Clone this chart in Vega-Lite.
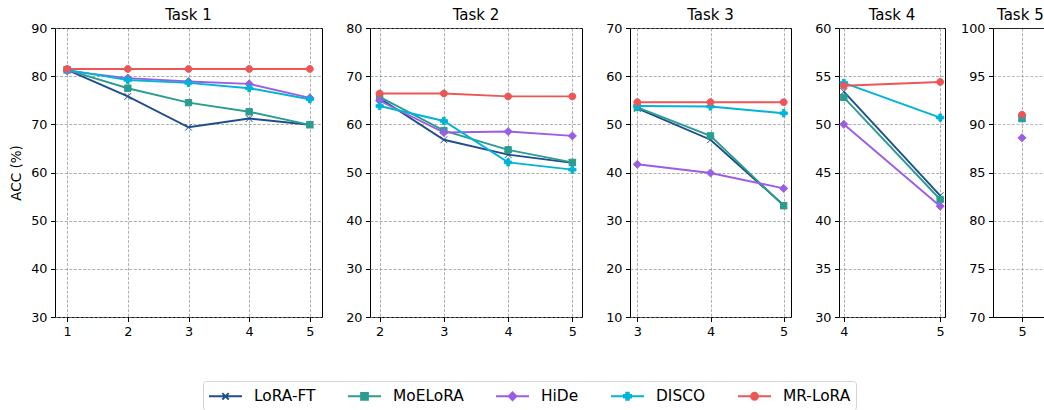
{
  "$schema": "https://vega.github.io/schema/vega-lite/v6.json",
  "background": "white",
  "padding": {"left": 9, "top": 7, "right": 0, "bottom": 0},
  "bounds": "flush",
  "spacing": 48,
  "config": {
    "font": "DejaVu Sans",
    "view": {"stroke": "#000", "strokeWidth": 1},
    "axis": {
      "domain": false,
      "grid": true,
      "gridColor": "#8a8a8a",
      "gridDash": [3, 1.6],
      "gridWidth": 0.8,
      "gridOpacity": 0.85,
      "tickColor": "#000",
      "tickSize": 4.5,
      "tickWidth": 1,
      "labelFont": "DejaVu Sans",
      "labelFontSize": 12.8,
      "labelColor": "#000",
      "labelPadding": 3.5,
      "labelFlush": false,
      "labelOverlap": false,
      "titleFont": "DejaVu Sans",
      "titleFontSize": 13.5,
      "titleFontWeight": "normal",
      "titleColor": "#000",
      "titlePadding": 7
    },
    "title": {"font": "DejaVu Sans", "fontSize": 15, "fontWeight": "normal", "color": "#000"}
  },
  "data": {
    "values": [
      {"task": 1, "step": 1, "method": "LoRA-FT", "acc": 81.3},
      {"task": 1, "step": 2, "method": "LoRA-FT", "acc": 75.8},
      {"task": 1, "step": 3, "method": "LoRA-FT", "acc": 69.4},
      {"task": 1, "step": 4, "method": "LoRA-FT", "acc": 71.2},
      {"task": 1, "step": 5, "method": "LoRA-FT", "acc": 69.9},
      {"task": 1, "step": 1, "method": "MoELoRA", "acc": 81.3},
      {"task": 1, "step": 2, "method": "MoELoRA", "acc": 77.5},
      {"task": 1, "step": 3, "method": "MoELoRA", "acc": 74.5},
      {"task": 1, "step": 4, "method": "MoELoRA", "acc": 72.6},
      {"task": 1, "step": 5, "method": "MoELoRA", "acc": 69.9},
      {"task": 1, "step": 1, "method": "HiDe", "acc": 81.1},
      {"task": 1, "step": 2, "method": "HiDe", "acc": 79.6},
      {"task": 1, "step": 3, "method": "HiDe", "acc": 78.9},
      {"task": 1, "step": 4, "method": "HiDe", "acc": 78.4},
      {"task": 1, "step": 5, "method": "HiDe", "acc": 75.5},
      {"task": 1, "step": 1, "method": "DISCO", "acc": 81.3},
      {"task": 1, "step": 2, "method": "DISCO", "acc": 79.2},
      {"task": 1, "step": 3, "method": "DISCO", "acc": 78.6},
      {"task": 1, "step": 4, "method": "DISCO", "acc": 77.5},
      {"task": 1, "step": 5, "method": "DISCO", "acc": 75.2},
      {"task": 1, "step": 1, "method": "MR-LoRA", "acc": 81.5},
      {"task": 1, "step": 2, "method": "MR-LoRA", "acc": 81.5},
      {"task": 1, "step": 3, "method": "MR-LoRA", "acc": 81.5},
      {"task": 1, "step": 4, "method": "MR-LoRA", "acc": 81.5},
      {"task": 1, "step": 5, "method": "MR-LoRA", "acc": 81.5},

      {"task": 2, "step": 2, "method": "LoRA-FT", "acc": 65.4},
      {"task": 2, "step": 3, "method": "LoRA-FT", "acc": 56.8},
      {"task": 2, "step": 4, "method": "LoRA-FT", "acc": 53.7},
      {"task": 2, "step": 5, "method": "LoRA-FT", "acc": 52.0},
      {"task": 2, "step": 2, "method": "MoELoRA", "acc": 65.7},
      {"task": 2, "step": 3, "method": "MoELoRA", "acc": 58.7},
      {"task": 2, "step": 4, "method": "MoELoRA", "acc": 54.7},
      {"task": 2, "step": 5, "method": "MoELoRA", "acc": 52.1},
      {"task": 2, "step": 2, "method": "HiDe", "acc": 64.9},
      {"task": 2, "step": 3, "method": "HiDe", "acc": 58.3},
      {"task": 2, "step": 4, "method": "HiDe", "acc": 58.5},
      {"task": 2, "step": 5, "method": "HiDe", "acc": 57.6},
      {"task": 2, "step": 2, "method": "DISCO", "acc": 63.8},
      {"task": 2, "step": 3, "method": "DISCO", "acc": 60.7},
      {"task": 2, "step": 4, "method": "DISCO", "acc": 52.1},
      {"task": 2, "step": 5, "method": "DISCO", "acc": 50.6},
      {"task": 2, "step": 2, "method": "MR-LoRA", "acc": 66.4},
      {"task": 2, "step": 3, "method": "MR-LoRA", "acc": 66.4},
      {"task": 2, "step": 4, "method": "MR-LoRA", "acc": 65.8},
      {"task": 2, "step": 5, "method": "MR-LoRA", "acc": 65.8},

      {"task": 3, "step": 3, "method": "LoRA-FT", "acc": 53.3},
      {"task": 3, "step": 4, "method": "LoRA-FT", "acc": 46.8},
      {"task": 3, "step": 5, "method": "LoRA-FT", "acc": 33.2},
      {"task": 3, "step": 3, "method": "MoELoRA", "acc": 53.5},
      {"task": 3, "step": 4, "method": "MoELoRA", "acc": 47.6},
      {"task": 3, "step": 5, "method": "MoELoRA", "acc": 33.1},
      {"task": 3, "step": 3, "method": "HiDe", "acc": 41.7},
      {"task": 3, "step": 4, "method": "HiDe", "acc": 39.9},
      {"task": 3, "step": 5, "method": "HiDe", "acc": 36.7},
      {"task": 3, "step": 3, "method": "DISCO", "acc": 53.8},
      {"task": 3, "step": 4, "method": "DISCO", "acc": 53.7},
      {"task": 3, "step": 5, "method": "DISCO", "acc": 52.3},
      {"task": 3, "step": 3, "method": "MR-LoRA", "acc": 54.6},
      {"task": 3, "step": 4, "method": "MR-LoRA", "acc": 54.6},
      {"task": 3, "step": 5, "method": "MR-LoRA", "acc": 54.6},

      {"task": 4, "step": 4, "method": "LoRA-FT", "acc": 53.4},
      {"task": 4, "step": 5, "method": "LoRA-FT", "acc": 42.6},
      {"task": 4, "step": 4, "method": "MoELoRA", "acc": 52.8},
      {"task": 4, "step": 5, "method": "MoELoRA", "acc": 42.2},
      {"task": 4, "step": 4, "method": "HiDe", "acc": 50.0},
      {"task": 4, "step": 5, "method": "HiDe", "acc": 41.5},
      {"task": 4, "step": 4, "method": "DISCO", "acc": 54.3},
      {"task": 4, "step": 5, "method": "DISCO", "acc": 50.7},
      {"task": 4, "step": 4, "method": "MR-LoRA", "acc": 54.0},
      {"task": 4, "step": 5, "method": "MR-LoRA", "acc": 54.4},

      {"task": 5, "step": 5, "method": "LoRA-FT", "acc": 90.6},
      {"task": 5, "step": 5, "method": "MoELoRA", "acc": 90.6},
      {"task": 5, "step": 5, "method": "HiDe", "acc": 88.6},
      {"task": 5, "step": 5, "method": "DISCO", "acc": 90.9},
      {"task": 5, "step": 5, "method": "MR-LoRA", "acc": 91.0}
    ]
  },
  "hconcat": [
    {
      "width": 267,
      "height": 289,
      "title": {"text": "Task 1", "frame": "group", "offset": -1},
      "transform": [{"filter": "datum.task === 1"}],
      "encoding": {
        "x": {"field": "step", "type": "quantitative", "scale": {"domain": [0.8, 5.2], "nice": false, "zero": false}, "axis": {"values": [1, 2, 3, 4, 5], "format": "d", "title": null}},
        "y": {"field": "acc", "type": "quantitative", "scale": {"domain": [30, 90], "nice": false, "zero": false}, "axis": {"values": [30, 40, 50, 60, 70, 80, 90], "title": "ACC (%)"}}
      },
      "layer": [
        {
          "mark": {"type": "line", "strokeWidth": 1.9},
          "encoding": {
            "color": {
              "field": "method", "type": "nominal",
              "scale": {"domain": ["LoRA-FT", "MoELoRA", "HiDe", "DISCO", "MR-LoRA"], "range": ["#1f4e8c", "#2a9d8f", "#9b5de5", "#00b4d8", "#ee5656"]},
              "legend": {
                "orient": "none",
                "legendX": 148,
                "legendY": 353,
                "direction": "horizontal",
                "columns": 5,
                "title": null,
                "labelFont": "DejaVu Sans",
                "labelFontSize": 15.4,
                "labelColor": "#000",
                "labelOffset": 26,
                "columnPadding": 28,
                "padding": 5,
                "strokeColor": "#d3d3d3",
                "fillColor": "white",
                "cornerRadius": 3,
                "symbolSize": 324,
                "symbolStrokeWidth": 1.9,
                "encode": {
                  "symbols": {
                    "update": {
                      "shape": {"signal": "datum.value === 'LoRA-FT' ? 'M-1,0H2.67M0.475,-0.36L1.195,0.36M0.475,0.36L1.195,-0.36' : datum.value === 'MoELoRA' ? 'M-1,0H2.67M0.455,-0.38H1.215V0.38H0.455Z' : datum.value === 'HiDe' ? 'M-1,0H2.67M0.835,-0.44L1.275,0L0.835,0.44L0.395,0Z' : datum.value === 'DISCO' ? 'M-1,0H2.67M0.69,-0.4H0.98V-0.145H1.235V0.145H0.98V0.4H0.69V0.145H0.435V-0.145H0.69Z' : 'M-1,0H2.67M0.445,0A0.39,0.39 0 1,0 1.225,0A0.39,0.39 0 1,0 0.445,0Z'"}
                    }
                  }
                }
              }
            }
          }
        },
        {
          "mark": {"type": "point", "filled": true, "size": 64, "strokeWidth": 1, "opacity": 1},
          "encoding": {
            "color": {"field": "method", "type": "nominal", "scale": {"domain": ["LoRA-FT", "MoELoRA", "HiDe", "DISCO", "MR-LoRA"], "range": ["#1f4e8c", "#2a9d8f", "#9b5de5", "#00b4d8", "#ee5656"]}},
            "stroke": {"field": "method", "type": "nominal", "scale": {"domain": ["LoRA-FT", "MoELoRA", "HiDe", "DISCO", "MR-LoRA"], "range": ["#1f4e8c", "#2a9d8f", "#9b5de5", "#00b4d8", "#ee5656"]}, "legend": null},
            "shape": {"condition": [
              {"test": "datum.method === 'LoRA-FT'", "value": "M-0.85,-0.85L0.85,0.85M-0.85,0.85L0.85,-0.85"},
              {"test": "datum.method === 'MoELoRA'", "value": "M-0.8,-0.8H0.8V0.8H-0.8Z"},
              {"test": "datum.method === 'HiDe'", "value": "M0,-1L1,0L0,1L-1,0Z"},
              {"test": "datum.method === 'DISCO'", "value": "M-0.33,-0.9H0.33V-0.33H0.9V0.33H0.33V0.9H-0.33V0.33H-0.9V-0.33H-0.33Z"}
            ], "value": "M-0.85,0A0.85,0.85 0 1,0 0.85,0A0.85,0.85 0 1,0 -0.85,0Z"}
          }
        }
      ]
    },
    {
      "width": 212,
      "height": 289,
      "title": {"text": "Task 2", "frame": "group", "offset": -1},
      "transform": [{"filter": "datum.task === 2"}],
      "encoding": {
        "x": {"field": "step", "type": "quantitative", "scale": {"domain": [1.85, 5.15], "nice": false, "zero": false}, "axis": {"values": [2, 3, 4, 5], "format": "d", "title": null}},
        "y": {"field": "acc", "type": "quantitative", "scale": {"domain": [20, 80], "nice": false, "zero": false}, "axis": {"values": [20, 30, 40, 50, 60, 70, 80], "title": null}},
        "color": {"field": "method", "type": "nominal", "scale": {"domain": ["LoRA-FT", "MoELoRA", "HiDe", "DISCO", "MR-LoRA"], "range": ["#1f4e8c", "#2a9d8f", "#9b5de5", "#00b4d8", "#ee5656"]}}
      },
      "layer": [
        {"mark": {"type": "line", "strokeWidth": 1.9}},
        {
          "mark": {"type": "point", "filled": true, "size": 64, "strokeWidth": 1, "opacity": 1},
          "encoding": {
            "stroke": {"field": "method", "type": "nominal", "scale": {"domain": ["LoRA-FT", "MoELoRA", "HiDe", "DISCO", "MR-LoRA"], "range": ["#1f4e8c", "#2a9d8f", "#9b5de5", "#00b4d8", "#ee5656"]}, "legend": null},
            "shape": {"condition": [
              {"test": "datum.method === 'LoRA-FT'", "value": "M-0.85,-0.85L0.85,0.85M-0.85,0.85L0.85,-0.85"},
              {"test": "datum.method === 'MoELoRA'", "value": "M-0.8,-0.8H0.8V0.8H-0.8Z"},
              {"test": "datum.method === 'HiDe'", "value": "M0,-1L1,0L0,1L-1,0Z"},
              {"test": "datum.method === 'DISCO'", "value": "M-0.33,-0.9H0.33V-0.33H0.9V0.33H0.33V0.9H-0.33V0.33H-0.9V-0.33H-0.33Z"}
            ], "value": "M-0.85,0A0.85,0.85 0 1,0 0.85,0A0.85,0.85 0 1,0 -0.85,0Z"}
          }
        }
      ]
    },
    {
      "width": 161,
      "height": 289,
      "title": {"text": "Task 3", "frame": "group", "offset": -1},
      "transform": [{"filter": "datum.task === 3"}],
      "encoding": {
        "x": {"field": "step", "type": "quantitative", "scale": {"domain": [2.9, 5.1], "nice": false, "zero": false}, "axis": {"values": [3, 4, 5], "format": "d", "title": null}},
        "y": {"field": "acc", "type": "quantitative", "scale": {"domain": [10, 70], "nice": false, "zero": false}, "axis": {"values": [10, 20, 30, 40, 50, 60, 70], "title": null}},
        "color": {"field": "method", "type": "nominal", "scale": {"domain": ["LoRA-FT", "MoELoRA", "HiDe", "DISCO", "MR-LoRA"], "range": ["#1f4e8c", "#2a9d8f", "#9b5de5", "#00b4d8", "#ee5656"]}}
      },
      "layer": [
        {"mark": {"type": "line", "strokeWidth": 1.9}},
        {
          "mark": {"type": "point", "filled": true, "size": 64, "strokeWidth": 1, "opacity": 1},
          "encoding": {
            "stroke": {"field": "method", "type": "nominal", "scale": {"domain": ["LoRA-FT", "MoELoRA", "HiDe", "DISCO", "MR-LoRA"], "range": ["#1f4e8c", "#2a9d8f", "#9b5de5", "#00b4d8", "#ee5656"]}, "legend": null},
            "shape": {"condition": [
              {"test": "datum.method === 'LoRA-FT'", "value": "M-0.85,-0.85L0.85,0.85M-0.85,0.85L0.85,-0.85"},
              {"test": "datum.method === 'MoELoRA'", "value": "M-0.8,-0.8H0.8V0.8H-0.8Z"},
              {"test": "datum.method === 'HiDe'", "value": "M0,-1L1,0L0,1L-1,0Z"},
              {"test": "datum.method === 'DISCO'", "value": "M-0.33,-0.9H0.33V-0.33H0.9V0.33H0.33V0.9H-0.33V0.33H-0.9V-0.33H-0.33Z"}
            ], "value": "M-0.85,0A0.85,0.85 0 1,0 0.85,0A0.85,0.85 0 1,0 -0.85,0Z"}
          }
        }
      ]
    },
    {
      "width": 106,
      "height": 289,
      "title": {"text": "Task 4", "frame": "group", "offset": -1},
      "transform": [{"filter": "datum.task === 4"}],
      "encoding": {
        "x": {"field": "step", "type": "quantitative", "scale": {"domain": [3.95, 5.05], "nice": false, "zero": false}, "axis": {"values": [4, 5], "format": "d", "title": null}},
        "y": {"field": "acc", "type": "quantitative", "scale": {"domain": [30, 60], "nice": false, "zero": false}, "axis": {"values": [30, 35, 40, 45, 50, 55, 60], "title": null}},
        "color": {"field": "method", "type": "nominal", "scale": {"domain": ["LoRA-FT", "MoELoRA", "HiDe", "DISCO", "MR-LoRA"], "range": ["#1f4e8c", "#2a9d8f", "#9b5de5", "#00b4d8", "#ee5656"]}}
      },
      "layer": [
        {"mark": {"type": "line", "strokeWidth": 1.9}},
        {
          "mark": {"type": "point", "filled": true, "size": 64, "strokeWidth": 1, "opacity": 1},
          "encoding": {
            "stroke": {"field": "method", "type": "nominal", "scale": {"domain": ["LoRA-FT", "MoELoRA", "HiDe", "DISCO", "MR-LoRA"], "range": ["#1f4e8c", "#2a9d8f", "#9b5de5", "#00b4d8", "#ee5656"]}, "legend": null},
            "shape": {"condition": [
              {"test": "datum.method === 'LoRA-FT'", "value": "M-0.85,-0.85L0.85,0.85M-0.85,0.85L0.85,-0.85"},
              {"test": "datum.method === 'MoELoRA'", "value": "M-0.8,-0.8H0.8V0.8H-0.8Z"},
              {"test": "datum.method === 'HiDe'", "value": "M0,-1L1,0L0,1L-1,0Z"},
              {"test": "datum.method === 'DISCO'", "value": "M-0.33,-0.9H0.33V-0.33H0.9V0.33H0.33V0.9H-0.33V0.33H-0.9V-0.33H-0.33Z"}
            ], "value": "M-0.85,0A0.85,0.85 0 1,0 0.85,0A0.85,0.85 0 1,0 -0.85,0Z"}
          }
        }
      ]
    },
    {
      "width": 51,
      "height": 289,
      "title": {"text": "Task 5", "anchor": "start", "dx": 4, "frame": "group", "offset": -1},
      "view": {"stroke": null},
      "transform": [{"filter": "datum.task === 5"}],
      "mark": {"type": "point", "filled": true, "size": 64, "strokeWidth": 1, "opacity": 1},
      "encoding": {
        "x": {"field": "step", "type": "quantitative", "scale": {"domain": [4.5, 5.379], "nice": false, "zero": false}, "axis": {"values": [5], "format": "d", "title": null, "domain": true, "domainColor": "#000", "domainWidth": 1}},
        "y": {
          "field": "acc", "type": "quantitative", "scale": {"domain": [70, 100], "nice": false, "zero": false},
          "axis": {
            "values": [70, 75, 80, 85, 90, 95, 100], "title": null, "domain": true, "domainColor": "#000", "domainWidth": 1,
            "gridColor": {"condition": {"test": "datum.value === 100", "value": "#000"}, "value": "#8a8a8a"},
            "gridDash": {"condition": {"test": "datum.value === 100", "value": []}, "value": [3, 1.6]},
            "gridWidth": {"condition": {"test": "datum.value === 100", "value": 1}, "value": 0.8},
            "gridOpacity": {"condition": {"test": "datum.value === 100", "value": 1}, "value": 0.85}
          }
        },
        "color": {"field": "method", "type": "nominal", "scale": {"domain": ["LoRA-FT", "MoELoRA", "HiDe", "DISCO", "MR-LoRA"], "range": ["#1f4e8c", "#2a9d8f", "#9b5de5", "#00b4d8", "#ee5656"]}},
        "stroke": {"field": "method", "type": "nominal", "scale": {"domain": ["LoRA-FT", "MoELoRA", "HiDe", "DISCO", "MR-LoRA"], "range": ["#1f4e8c", "#2a9d8f", "#9b5de5", "#00b4d8", "#ee5656"]}, "legend": null},
        "shape": {"condition": [
          {"test": "datum.method === 'LoRA-FT'", "value": "M-0.85,-0.85L0.85,0.85M-0.85,0.85L0.85,-0.85"},
          {"test": "datum.method === 'MoELoRA'", "value": "M-0.8,-0.8H0.8V0.8H-0.8Z"},
          {"test": "datum.method === 'HiDe'", "value": "M0,-1L1,0L0,1L-1,0Z"},
          {"test": "datum.method === 'DISCO'", "value": "M-0.33,-0.9H0.33V-0.33H0.9V0.33H0.33V0.9H-0.33V0.33H-0.9V-0.33H-0.33Z"}
        ], "value": "M-0.85,0A0.85,0.85 0 1,0 0.85,0A0.85,0.85 0 1,0 -0.85,0Z"}
      }
    }
  ]
}
